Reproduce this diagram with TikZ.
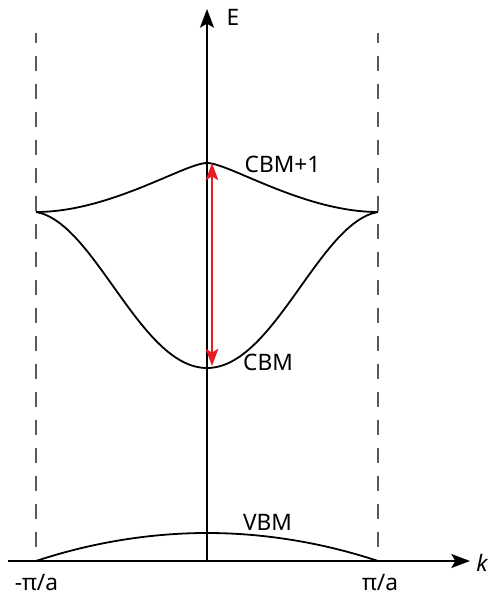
\documentclass[tikz,border=0pt]{standalone}
\usepackage{fontspec}
\setmainfont{Noto Sans}
\usetikzlibrary{arrows.meta}
\definecolor{gapred}{RGB}{232,28,36}

\begin{document}
\begin{tikzpicture}[x=0.75pt, y=-0.75pt, line width=1.35pt,
    font=\fontsize{17}{20}\selectfont,
    axis/.style={-{Stealth[length=14pt, width=10.5pt, inset=3pt]}},
    zone/.style={black!65, line width=0.8pt, dash pattern=on 11pt off 10pt, dash phase=3.75pt}]
  \useasboundingbox (0,0) rectangle (488,599);
  \coordinate (O) at (207,561);
  \coordinate (L) at (36,561);
  \coordinate (R) at (378,561);
  \coordinate (Ltop) at (36,33);
  \coordinate (Rtop) at (378,33);
  \coordinate (Xs) at (8,561);
  \coordinate (Xe) at (470,561);
  \coordinate (Ye) at (207,9);
  \coordinate (Lc) at (36,212);
  \coordinate (Rc) at (378,212);
  \coordinate (Gc) at (207,163);
  \coordinate (Gb) at (207,368);
  \coordinate (Gv) at (207,533);
  \coordinate (Tup) at (212,163);
  \coordinate (Tdn) at (212,366);
  % zone boundaries
  \draw[zone] (Ltop) -- (L);
  \draw[zone] (Rtop) -- (R);
  % axes
  \draw[axis] (Xs) -- (Xe);
  \draw[axis] (O) -- (Ye);
  % bands
  \draw (Lc) .. controls (110,212) and (185,163) .. (Gc)
        .. controls (229,163) and (304,212) .. (Rc);
  \draw (Lc) .. controls (95,222) and (140,368) .. (Gb)
        .. controls (274,368) and (319,222) .. (Rc);
  \draw (L) parabola bend (Gv) (R);
  % gap
  \draw[gapred, line width=1.3pt, {Stealth[length=13pt, width=9.5pt, inset=3pt]}-{Stealth[length=13pt, width=9.5pt, inset=3pt]}] (Tup) -- (Tdn);
  \node (eLbl) at (233,17) {E};
  \node (kLbl) at (482,563) {\itshape k};
  \node (cbmOne) at (282.5,164) {CBM+1};
  \node (cbm) at (268,362) {CBM};
  \node (vbm) at (267.5,522) {VBM};
  \node (kMin) at (36.5,583) {-π/a};
  \node (kMax) at (380,583) {π/a};
\end{tikzpicture}
\end{document}
